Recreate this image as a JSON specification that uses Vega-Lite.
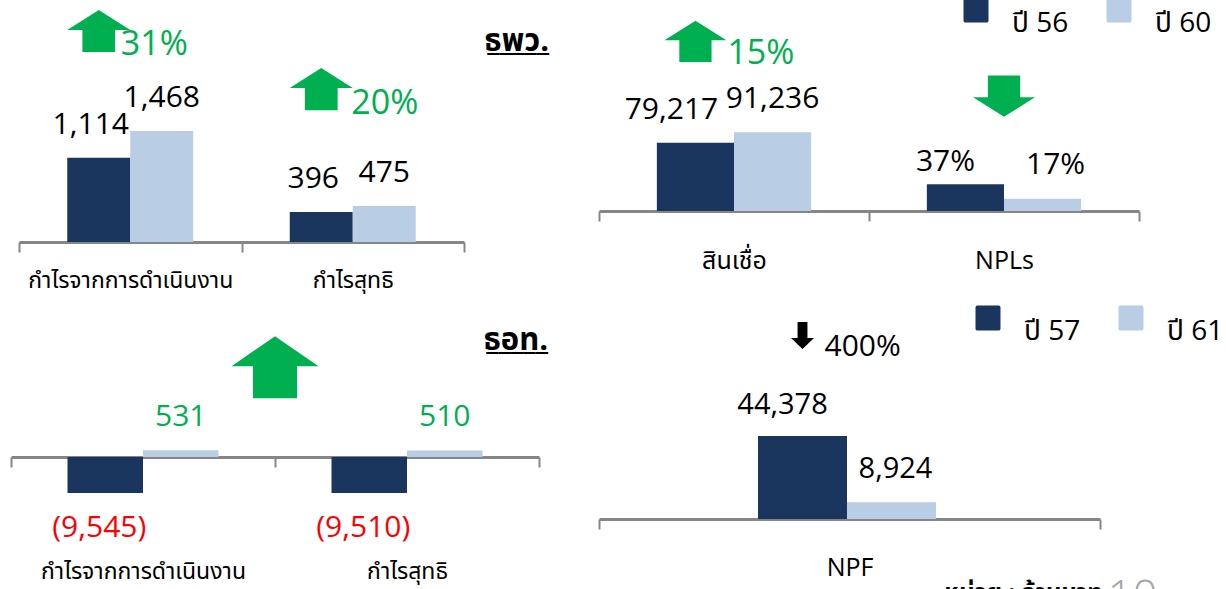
{
  "$schema": "https://vega.github.io/schema/vega-lite/v6.json",
  "padding": {"left": 10, "top": -4, "right": 0, "bottom": 0},
  "bounds": "flush",
  "columns": 2,
  "spacing": {"row": 58, "column": 60},
  "resolve": {"scale": {"color": "independent", "xOffset": "independent"}, "legend": {"color": "independent"}},
  "datasets": {
    "thbProfit": [
      {"item": "กำไรจากการดำเนินงาน", "year": "ปี 56", "value": 1114},
      {"item": "กำไรจากการดำเนินงาน", "year": "ปี 60", "value": 1468},
      {"item": "กำไรสุทธิ", "year": "ปี 56", "value": 396},
      {"item": "กำไรสุทธิ", "year": "ปี 60", "value": 475}
    ],
    "thbProfitChange": [
      {"item": "กำไรจากการดำเนินงาน", "change": "31%"},
      {"item": "กำไรสุทธิ", "change": "20%"}
    ],
    "thbCredit": [
      {"item": "สินเชื่อ", "year": "ปี 56", "value": 79217},
      {"item": "สินเชื่อ", "year": "ปี 60", "value": 91236},
      {"item": "NPLs", "year": "ปี 56", "value": 0.37},
      {"item": "NPLs", "year": "ปี 60", "value": 0.17}
    ],
    "thbCreditChange": [{"item": "สินเชื่อ", "change": "15%"}],
    "ibankProfit": [
      {"item": "กำไรจากการดำเนินงาน", "year": "ปี 57", "value": -9545},
      {"item": "กำไรจากการดำเนินงาน", "year": "ปี 61", "value": 531},
      {"item": "กำไรสุทธิ", "year": "ปี 57", "value": -9510},
      {"item": "กำไรสุทธิ", "year": "ปี 61", "value": 510}
    ],
    "ibankNpf": [
      {"item": "NPF", "year": "ปี 57", "value": 44378},
      {"item": "NPF", "year": "ปี 61", "value": 8924}
    ],
    "ibankNpfChange": [{"item": "NPF", "change": "400%"}]
  },
  "concat": [
    {
      "width": 453,
      "height": 242,
      "title": {"text": "ธพว.", "subtitle": "_____", "anchor": "end", "frame": "group", "orient": "top", "offset": -82, "dx": 85, "baseline": "alphabetic", "fontSize": 31, "fontWeight": "bold", "color": "#000000", "subtitleFontSize": 30, "subtitleFontWeight": "bold", "subtitleColor": "#000000", "subtitlePadding": -32},
      "data": {"name": "thbProfit"},
      "encoding": {
        "x": {"field": "item", "type": "nominal", "scale": {"domain": ["กำไรจากการดำเนินงาน", "กำไรสุทธิ"], "range": [8, 453], "paddingInner": 0, "paddingOuter": 0}, "axis": {"title": null, "labelFontSize": 23, "labelPadding": 17, "labelAngle": 0, "tickBand": "extent", "labelLimit": 400}},
        "y": {"field": "value", "type": "quantitative", "scale": {"domain": [0, 3200]}, "axis": null},
        "xOffset": {"field": "year", "type": "nominal", "scale": {"paddingInner": 0, "paddingOuter": 0.766}}
      },
      "layer": [
        {
          "mark": {"type": "bar"},
          "encoding": {
            "color": {"field": "year", "type": "nominal", "scale": {"domain": ["ปี 56", "ปี 60"], "range": ["#1B365E", "#B9CDE5"]}, "legend": null}
          }
        },
        {
          "transform": [{"filter": "datum.year === 'ปี 56'"}],
          "mark": {"type": "text", "baseline": "alphabetic", "dx": -8, "dy": -24, "fontSize": 30, "color": "#000000"},
          "encoding": {"text": {"field": "value", "type": "quantitative", "format": ","}}
        },
        {
          "transform": [{"filter": "datum.year === 'ปี 60'"}],
          "mark": {"type": "text", "baseline": "alphabetic", "dx": 0, "dy": -24, "fontSize": 30, "color": "#000000"},
          "encoding": {"text": {"field": "value", "type": "quantitative", "format": ","}}
        },
        {
          "transform": [
            {"joinaggregate": [{"op": "max", "field": "value", "as": "peak"}], "groupby": ["item"]},
            {"filter": "datum.year === 'ปี 56' && datum.item === 'กำไรจากการดำเนินงาน'"}
          ],
          "mark": {"type": "point", "shape": "M0,-0.635L1,0L0.52,0L0.52,0.7L-0.52,0.7L-0.52,0L-1,0Z", "size": 3969, "filled": true, "opacity": 1, "strokeWidth": 0, "color": "#00B050"},
          "encoding": {"y": {"field": "peak", "type": "quantitative"}, "yOffset": {"value": -101}}
        },
        {
          "transform": [
            {"joinaggregate": [{"op": "max", "field": "value", "as": "peak"}], "groupby": ["item"]},
            {"filter": "datum.year === 'ปี 56' && datum.item === 'กำไรจากการดำเนินงาน'"},
            {"lookup": "item", "from": {"data": {"name": "thbProfitChange"}, "key": "item", "fields": ["change"]}}
          ],
          "mark": {"type": "text", "align": "left", "baseline": "alphabetic", "dx": 22, "dy": 25, "fontSize": 34, "color": "#00B050"},
          "encoding": {"y": {"field": "peak", "type": "quantitative"}, "yOffset": {"value": -101}, "text": {"field": "change", "type": "nominal"}}
        },
        {
          "transform": [
            {"joinaggregate": [{"op": "max", "field": "value", "as": "peak"}], "groupby": ["item"]},
            {"filter": "datum.year === 'ปี 56' && datum.item === 'กำไรสุทธิ'"}
          ],
          "mark": {"type": "point", "shape": "M0,-0.635L1,0L0.52,0L0.52,0.7L-0.52,0.7L-0.52,0L-1,0Z", "size": 3969, "filled": true, "opacity": 1, "strokeWidth": 0, "color": "#00B050"},
          "encoding": {"y": {"field": "peak", "type": "quantitative"}, "yOffset": {"value": -118}}
        },
        {
          "transform": [
            {"joinaggregate": [{"op": "max", "field": "value", "as": "peak"}], "groupby": ["item"]},
            {"filter": "datum.year === 'ปี 56' && datum.item === 'กำไรสุทธิ'"},
            {"lookup": "item", "from": {"data": {"name": "thbProfitChange"}, "key": "item", "fields": ["change"]}}
          ],
          "mark": {"type": "text", "align": "left", "baseline": "alphabetic", "dx": 30, "dy": 26, "fontSize": 34, "color": "#00B050"},
          "encoding": {"y": {"field": "peak", "type": "quantitative"}, "yOffset": {"value": -118}, "text": {"field": "change", "type": "nominal"}}
        }
      ]
    },
    {
      "width": 540,
      "height": 211,
      "data": {"name": "thbCredit"},
      "encoding": {
        "x": {"field": "item", "type": "nominal", "scale": {"domain": ["สินเชื่อ", "NPLs"], "paddingInner": 0, "paddingOuter": 0}, "axis": {"title": null, "labelFontSize": 25, "labelPadding": 27, "labelAngle": 0, "tickBand": "extent", "labelLimit": 400}}
      },
      "layer": [
        {
          "transform": [{"filter": "datum.item === 'สินเชื่อ'"}],
          "encoding": {
            "y": {"field": "value", "type": "quantitative", "scale": {"domain": [0, 244760]}, "axis": null},
            "xOffset": {"field": "year", "type": "nominal", "scale": {"paddingInner": 0, "paddingOuter": 0.75}}
          },
          "layer": [
            {
              "mark": {"type": "bar"},
              "encoding": {
                "color": {"field": "year", "type": "nominal", "scale": {"domain": ["ปี 56", "ปี 60"], "range": ["#1B365E", "#B9CDE5"]}, "legend": {"title": null, "orient": "none", "legendX": 363, "legendY": -4, "direction": "horizontal"}}
              }
            },
            {
              "transform": [{"filter": "datum.year === 'ปี 56'"}],
              "mark": {"type": "text", "baseline": "alphabetic", "dx": -24, "dy": -24, "fontSize": 30, "color": "#000000"},
              "encoding": {"text": {"field": "value", "type": "quantitative", "format": ","}}
            },
            {
              "transform": [{"filter": "datum.year === 'ปี 60'"}],
              "mark": {"type": "text", "baseline": "alphabetic", "dx": 0, "dy": -24, "fontSize": 30, "color": "#000000"},
              "encoding": {"text": {"field": "value", "type": "quantitative", "format": ","}}
            },
            {
              "transform": [
                {"joinaggregate": [{"op": "max", "field": "value", "as": "peak"}], "groupby": ["item"]},
                {"filter": "datum.year === 'ปี 56'"}
              ],
              "mark": {"type": "point", "shape": "M0,-0.635L1,0L0.52,0L0.52,0.7L-0.52,0.7L-0.52,0L-1,0Z", "size": 3844, "filled": true, "opacity": 1, "strokeWidth": 0, "color": "#00B050"},
              "encoding": {"y": {"field": "peak", "type": "quantitative"}, "yOffset": {"value": -92}}
            },
            {
              "transform": [
                {"joinaggregate": [{"op": "max", "field": "value", "as": "peak"}], "groupby": ["item"]},
                {"filter": "datum.year === 'ปี 56'"},
                {"lookup": "item", "from": {"data": {"name": "thbCreditChange"}, "key": "item", "fields": ["change"]}}
              ],
              "mark": {"type": "text", "align": "left", "baseline": "alphabetic", "dx": 32, "dy": 24, "fontSize": 34, "color": "#00B050"},
              "encoding": {"y": {"field": "peak", "type": "quantitative"}, "yOffset": {"value": -92}, "text": {"field": "change", "type": "nominal"}}
            }
          ]
        },
        {
          "transform": [{"filter": "datum.item === 'NPLs'"}],
          "encoding": {"y": {"field": "value", "type": "quantitative", "scale": {"domain": [0, 2.91]}, "axis": null}},
          "layer": [
            {
              "mark": {"type": "bar"},
              "encoding": {
                "xOffset": {"field": "year", "type": "nominal", "scale": {"paddingInner": 0, "paddingOuter": 0.75}},
                "color": {"field": "year", "type": "nominal", "scale": {"domain": ["ปี 56", "ปี 60"], "range": ["#1B365E", "#B9CDE5"]}, "legend": {"title": null, "orient": "none", "legendX": 363, "legendY": -4, "direction": "horizontal"}}
              }
            },
            {
              "transform": [{"filter": "datum.year === 'ปี 56'"}],
              "mark": {"type": "text", "baseline": "alphabetic", "dx": -20, "dy": -13, "fontSize": 30, "color": "#000000"},
              "encoding": {"xOffset": {"field": "year", "type": "nominal", "scale": {"paddingInner": 0, "paddingOuter": 0.75}}, "text": {"field": "value", "type": "quantitative", "format": ".0%"}}
            },
            {
              "transform": [{"filter": "datum.year === 'ปี 60'"}],
              "mark": {"type": "text", "baseline": "alphabetic", "dx": 13, "dy": -25, "fontSize": 30, "color": "#000000"},
              "encoding": {"xOffset": {"field": "year", "type": "nominal", "scale": {"paddingInner": 0, "paddingOuter": 0.75}}, "text": {"field": "value", "type": "quantitative", "format": ".0%"}}
            },
            {
              "transform": [
                {"joinaggregate": [{"op": "max", "field": "value", "as": "peak"}], "groupby": ["item"]},
                {"filter": "datum.year === 'ปี 56'"}
              ],
              "mark": {"type": "point", "shape": "M0,0.635L1,0L0.52,0L0.52,-0.7L-0.52,-0.7L-0.52,0L-1,0Z", "size": 3844, "filled": true, "opacity": 1, "strokeWidth": 0, "color": "#00B050"},
              "encoding": {"y": {"field": "peak", "type": "quantitative"}, "yOffset": {"value": -87}}
            }
          ]
        }
      ],
      "resolve": {"scale": {"y": "independent"}}
    },
    {
      "width": 528,
      "height": 200,
      "title": {"text": "ธอท.", "subtitle": "_____", "anchor": "end", "frame": "group", "orient": "top", "offset": -81, "dx": 9, "baseline": "alphabetic", "fontSize": 31, "fontWeight": "bold", "color": "#000000", "subtitleFontSize": 30, "subtitleFontWeight": "bold", "subtitleColor": "#000000", "subtitlePadding": -32},
      "data": {"name": "ibankProfit"},
      "encoding": {
        "x": {"field": "item", "type": "nominal", "scale": {"domain": ["กำไรจากการดำเนินงาน", "กำไรสุทธิ"], "paddingInner": 0, "paddingOuter": 0}, "axis": {"title": null, "labelFontSize": 23, "labelPadding": 93, "labelAngle": 0, "tickBand": "extent", "labelLimit": 400, "offset": -43}},
        "y": {"field": "value", "type": "quantitative", "scale": {"type": "symlog", "constant": 900, "domain": [-15940, 39491000]}, "axis": null}
      },
      "layer": [
        {
          "encoding": {"xOffset": {"field": "year", "type": "nominal", "scale": {"paddingInner": 0, "paddingOuter": 0.748}}},
          "layer": [
            {
              "mark": {"type": "bar"},
              "encoding": {
                "color": {"field": "year", "type": "nominal", "scale": {"domain": ["ปี 57", "ปี 61"], "range": ["#1B365E", "#B9CDE5"]}, "legend": null}
              }
            },
            {
              "transform": [{"filter": "datum.value < 0"}],
              "mark": {"type": "text", "baseline": "alphabetic", "dx": -6, "dy": 44, "fontSize": 30, "color": "#FF0000"},
              "encoding": {"text": {"field": "value", "type": "quantitative", "format": "(,"}}
            },
            {
              "transform": [{"filter": "datum.value > 0"}],
              "mark": {"type": "text", "baseline": "alphabetic", "dx": 0, "dy": -24, "fontSize": 30, "color": "#00B050"},
              "encoding": {"text": {"field": "value", "type": "quantitative", "format": ","}}
            }
          ]
        },
        {
          "transform": [
            {"joinaggregate": [{"op": "max", "field": "value", "as": "peak"}]},
            {"filter": "datum.item === 'กำไรสุทธิ' && datum.year === 'ปี 57'"}
          ],
          "mark": {"type": "point", "shape": "M0,-0.69L1,0L0.506,0L0.506,0.736L-0.506,0.736L-0.506,0L-1,0Z", "size": 7569, "filled": true, "opacity": 1, "strokeWidth": 0, "color": "#00B050"},
          "encoding": {"x": {"field": "item", "type": "nominal", "bandPosition": 0}, "y": {"field": "peak", "type": "quantitative"}, "yOffset": {"value": -84}}
        }
      ]
    },
    {
      "width": 501,
      "height": 219,
      "data": {"name": "ibankNpf"},
      "encoding": {
        "x": {"field": "item", "type": "nominal", "scale": {"domain": ["NPF"], "paddingInner": 0, "paddingOuter": 0}, "axis": {"title": null, "labelFontSize": 25, "labelPadding": 26, "labelAngle": 0, "tickBand": "extent", "labelLimit": 400}},
        "y": {"field": "value", "type": "quantitative", "scale": {"domain": [0, 117165]}, "axis": null}
      },
      "layer": [
        {
          "encoding": {"xOffset": {"field": "year", "type": "nominal", "scale": {"range": [159, 337], "paddingInner": 0, "paddingOuter": 0}}},
          "layer": [
            {
              "mark": {"type": "bar"},
              "encoding": {
                "color": {"field": "year", "type": "nominal", "scale": {"domain": ["ปี 57", "ปี 61"], "range": ["#1B365E", "#B9CDE5"]}, "legend": {"title": null, "orient": "none", "legendX": 375, "legendY": 4, "direction": "horizontal"}}
              }
            },
            {
              "transform": [{"filter": "datum.year === 'ปี 57'"}],
              "mark": {"type": "text", "baseline": "alphabetic", "dx": -20, "dy": -22, "fontSize": 29, "color": "#000000"},
              "encoding": {"text": {"field": "value", "type": "quantitative", "format": ","}}
            },
            {
              "transform": [{"filter": "datum.year === 'ปี 61'"}],
              "mark": {"type": "text", "baseline": "alphabetic", "dx": 4, "dy": -24, "fontSize": 29, "color": "#000000"},
              "encoding": {"text": {"field": "value", "type": "quantitative", "format": ","}}
            },
            {
              "transform": [
                {"joinaggregate": [{"op": "max", "field": "value", "as": "peak"}], "groupby": ["item"]},
                {"filter": "datum.year === 'ปี 57'"}
              ],
              "mark": {"type": "point", "shape": "M0,0.96L1,0L0.43,0L0.43,-1.39L-0.43,-1.39L-0.43,0L-1,0Z", "size": 529, "filled": true, "opacity": 1, "strokeWidth": 0, "color": "#000000"},
              "encoding": {"y": {"field": "peak", "type": "quantitative"}, "yOffset": {"value": -98}}
            },
            {
              "transform": [
                {"joinaggregate": [{"op": "max", "field": "value", "as": "peak"}], "groupby": ["item"]},
                {"filter": "datum.year === 'ปี 57'"},
                {"lookup": "item", "from": {"data": {"name": "ibankNpfChange"}, "key": "item", "fields": ["change"]}}
              ],
              "mark": {"type": "text", "align": "left", "baseline": "alphabetic", "dx": 22, "dy": 18, "fontSize": 30, "color": "#000000"},
              "encoding": {"y": {"field": "peak", "type": "quantitative"}, "yOffset": {"value": -98}, "text": {"field": "change", "type": "nominal"}}
            }
          ]
        },
        {
          "transform": [{"filter": "datum.year === 'ปี 57'"}],
          "mark": {"type": "text", "baseline": "top", "dx": 174, "dy": 63, "fontSize": 24, "fontWeight": "bold", "color": "#000000"},
          "encoding": {"y": {"datum": 0, "type": "quantitative"}, "text": {"value": "หน่วย : ล้านบาท"}}
        },
        {
          "transform": [{"filter": "datum.year === 'ปี 57'"}],
          "mark": {"type": "text", "baseline": "top", "dx": 283, "dy": 58, "fontSize": 44, "fontWeight": 300, "color": "#A6A6A6"},
          "encoding": {"y": {"datum": 0, "type": "quantitative"}, "text": {"value": "10"}}
        }
      ]
    }
  ],
  "config": {
    "view": {"stroke": null},
    "font": "Open Sans, Noto Sans Thai, Noto Sans, sans-serif",
    "text": {"font": "Open Sans, Noto Sans Thai, Noto Sans, sans-serif"},
    "axis": {"domainColor": "#868686", "domainWidth": 3, "tickColor": "#868686", "tickWidth": 2, "tickSize": 10, "labelColor": "#000000", "grid": false, "labelFont": "Open Sans, Noto Sans Thai, Noto Sans, sans-serif", "labelFontWeight": "normal"},
    "legend": {"symbolType": "M-0.85,-1H0.85Q1,-1,1,-0.85V0.85Q1,1,0.85,1H-0.85Q-1,1,-1,0.85V-0.85Q-1,-1,-0.85,-1Z", "symbolSize": 625, "symbolStrokeWidth": 0, "symbolOpacity": 1, "labelFontSize": 28, "labelOffset": 22, "columnPadding": 36, "labelBaseline": "top", "labelColor": "#000000", "labelFont": "Open Sans, Noto Sans Thai, Noto Sans, sans-serif", "padding": 0}
  }
}
